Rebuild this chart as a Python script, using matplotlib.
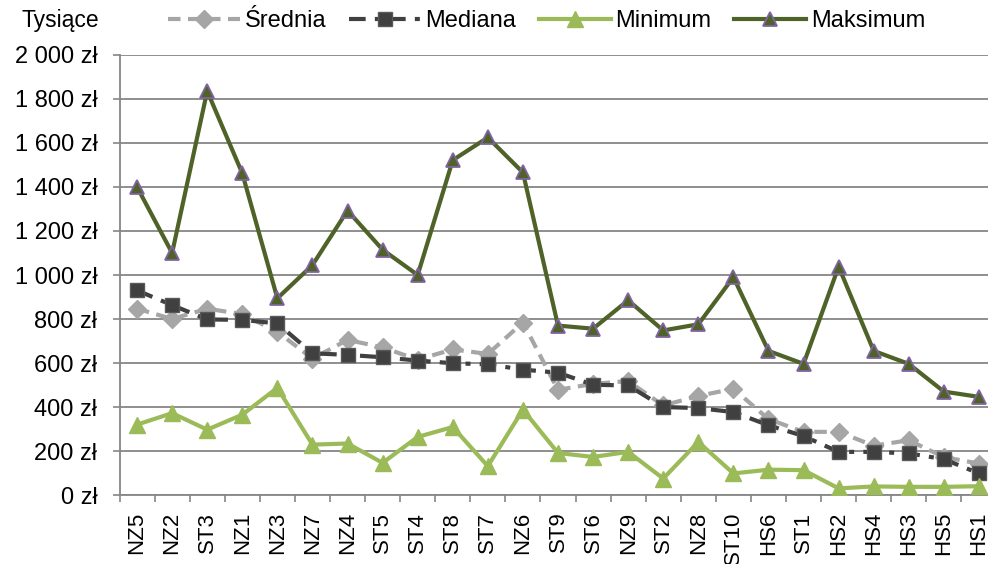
import matplotlib
matplotlib.use("Agg")
import matplotlib.pyplot as plt
import numpy as np
from matplotlib.ticker import FuncFormatter, FixedLocator

plt.rcParams['font.family'] = ['Liberation Sans', 'DejaVu Sans']

categories = ["NZ5", "NZ2", "ST3", "NZ1", "NZ3", "NZ7", "NZ4", "ST5", "ST4", "ST8", "ST7", "NZ6",
              "ST9", "ST6", "NZ9", "ST2", "NZ8", "ST10", "HS6", "ST1", "HS2", "HS4", "HS3", "HS5", "HS1"]
srednia = [847, 800, 847, 822, 742, 620, 705, 671, 615, 662, 641, 784,
           478, 505, 518, 407, 450, 483, 345, 287, 287, 224, 249, 172, 143]
mediana = [930, 863, 798, 796, 780, 644, 637, 626, 611, 599, 594, 570,
           556, 501, 498, 400, 395, 377, 317, 268, 196, 196, 189, 163, 98]
minimum = [320, 372, 297, 365, 487, 229, 234, 146, 264, 309, 131, 388,
           191, 173, 196, 75, 241, 98, 115, 113, 30, 39, 37, 37, 40]
maksimum = [1400, 1100, 1836, 1462, 894, 1045, 1293, 1115, 1000, 1522, 1625, 1466,
            770, 756, 885, 748, 776, 990, 655, 596, 1038, 655, 596, 470, 446]

fig = plt.figure(figsize=(9.88, 5.64), dpi=100)
ax = fig.add_axes([119.5/988, 69/564, 877/988, 440/564])

x = np.arange(len(categories))

ax.plot(x, srednia, color="#A6A6A6", lw=3, ls=(0, (3, 1.8)), marker="D", ms=9,
        mfc="#A6A6A6", mec="#A6A6A6", label="Średnia", zorder=3)
ax.plot(x, mediana, color="#404040", lw=3, ls=(0, (4, 2.2, 1.2, 2.2)), marker="s", ms=10,
        mfc="#404040", mec="#595959", label="Mediana", zorder=4)
ax.plot(x, minimum, color="#9BBB59", lw=3, marker="^", ms=11,
        mfc="#9BBB59", mec="#9BBB59", label="Minimum", zorder=5)
ax.plot(x, maksimum, color="#4F6228", lw=3, marker="^", ms=10,
        mfc="#4F6228", mec="#8064A2", mew=1.3, label="Maksimum", zorder=6)

ax.set_xlim(-0.5, len(categories) - 0.5)
ax.set_ylim(0, 2000)
ax.yaxis.set_major_locator(FixedLocator(np.arange(0, 2001, 200)))

def fmt(v, pos):
    v = int(round(v))
    s = f"{v:,}".replace(",", " ")
    return f"{s} zł"
ax.yaxis.set_major_formatter(FuncFormatter(fmt))

ax.set_xticks(x)
ax.set_xticklabels(categories, rotation=90, fontsize=16)
ax.tick_params(axis="x", length=0, pad=12)
ax.set_xticks(np.arange(-0.5, len(categories), 1), minor=True)
ax.tick_params(axis="x", which="minor", length=5, color="#868686", width=1.2)
ax.tick_params(axis="y", labelsize=17, length=5, color="#868686", width=1.2, pad=11)

ax.grid(axis="y", color="#868686", lw=1.3)
ax.set_axisbelow(True)
for s in ["top", "right"]:
    ax.spines[s].set_visible(False)
for s in ["left", "bottom"]:
    ax.spines[s].set_color("#868686")
    ax.spines[s].set_linewidth(1.3)

fig.text(21/988, 1 - 21/564, "Tysiące", fontsize=16.5, va="center", ha="left")

leg = fig.legend(loc="center left", bbox_to_anchor=(168/988, 1 - 21/564), ncol=4, frameon=False,
                 fontsize=17, handlelength=3.05, handletextpad=0.2, columnspacing=0.95,
                 borderaxespad=0, borderpad=0)

fig.savefig("out.png", dpi=100)
